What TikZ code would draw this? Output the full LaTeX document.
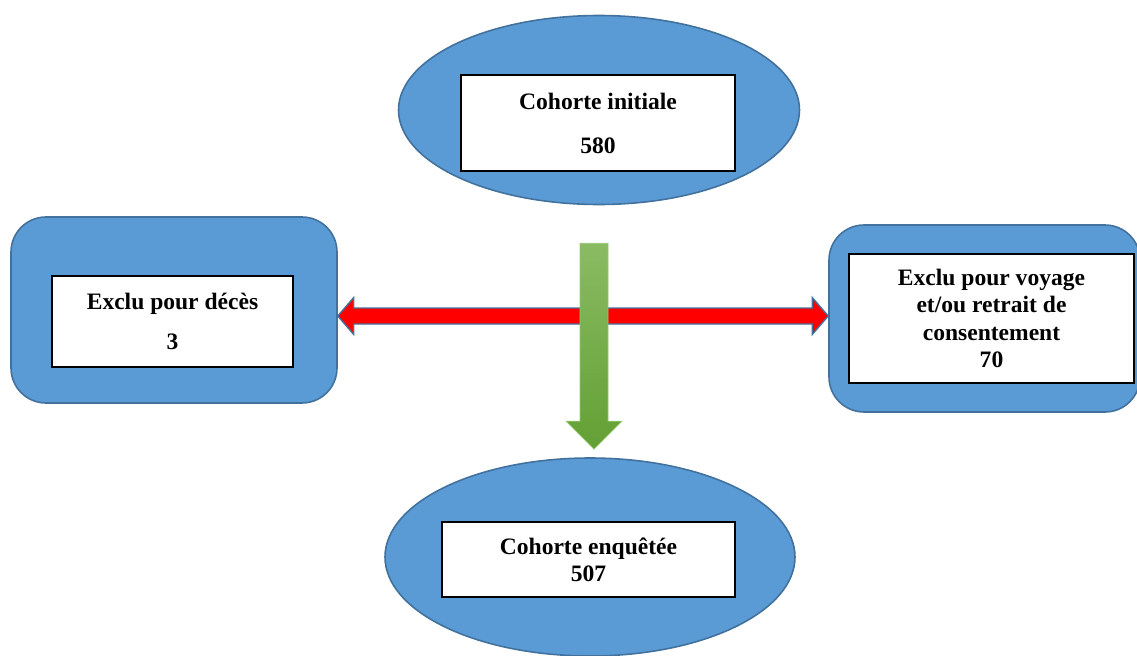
\documentclass[tikz,border=0pt]{standalone}
\usepackage{fontspec}
\setmainfont{Liberation Serif}
\usetikzlibrary{shapes.geometric,calc}
\definecolor{cellb}{RGB}{91,155,213}
\definecolor{edgeb}{RGB}{65,113,156}
\definecolor{arrgtop}{RGB}{138,187,99}
\definecolor{arrgbot}{RGB}{99,160,52}
\definecolor{arrgedge}{RGB}{150,200,110}

\begin{document}
\begin{tikzpicture}[
  font=\fontsize{13.4}{15.5}\selectfont\bfseries,
  oval/.style={ellipse, draw=edgeb, fill=cellb, line width=0.9pt, inner sep=0pt},
  rbox/.style={draw=edgeb, fill=cellb, line width=0.9pt, rounded corners=0.7cm,
               inner sep=0pt},
  tbox/.style={draw=black, fill=white, line width=0.6pt, inner sep=0pt, align=center},
  redarr/.style={draw=edgeb, fill=red, line width=0.8pt, line join=miter},
  greenarr/.style={draw=arrgedge, top color=arrgtop, bottom color=arrgbot,
                   line width=0.4pt},
]
\useasboundingbox (0,0) rectangle (22.74,-13.1);

% ---------- outer shapes ----------
\node[oval, minimum width=8.02cm, minimum height=3.78cm] (init) at (11.98,-2.2) {};
\node[rbox, minimum width=6.52cm, minimum height=3.72cm] (deces) at (3.48,-6.2) {};
\node[rbox, minimum width=6.22cm, minimum height=3.74cm] (voyage) at (19.69,-6.37) {};
\node[oval, minimum width=8.2cm, minimum height=3.96cm] (enq) at (11.8,-11.14) {};

% ---------- red double arrow: exclusions ----------
\coordinate (rl) at ($(deces.east)+(0,-0.12)$);
\coordinate (rr) at (rl -| voyage.west);
\draw[redarr] (rl) -- ($(rl)+(0.32,0.37)$) -- ($(rl)+(0.32,0.16)$)
  -- ($(rr)+(-0.32,0.16)$) -- ($(rr)+(-0.32,0.37)$) -- (rr)
  -- ($(rr)+(-0.32,-0.37)$) -- ($(rr)+(-0.32,-0.16)$)
  -- ($(rl)+(0.32,-0.16)$) -- ($(rl)+(0.32,-0.37)$) -- cycle;

% ---------- green arrow: initial -> surveyed ----------
\coordinate (gtop) at ($(init.south)+(-0.1,-0.76)$);
\coordinate (gtip) at ($(enq.north)+(0.08,0.16)$);
\draw[greenarr] ($(gtop)+(-0.28,0)$) -- ($(gtop)+(0.28,0)$)
  -- ($(gtip)+(0.28,0.56)$) -- ($(gtip)+(0.56,0.56)$) -- (gtip)
  -- ($(gtip)+(-0.56,0.56)$) -- ($(gtip)+(-0.28,0.56)$) -- cycle;

% ---------- text boxes ----------
\node[tbox, minimum width=5.48cm, minimum height=1.92cm] (initt) at (11.96,-2.46)
  {Cohorte initiale\\[9.5pt]580};
\node[tbox, minimum width=4.82cm, minimum height=1.82cm] (decest) at (3.45,-6.43)
  {Exclu pour décès\\[7.7pt]3};
\node[tbox, minimum width=5.7cm, minimum height=2.58cm] (voyaget) at (19.83,-6.37)
  {Exclu pour voyage\\et/ou retrait de\\consentement\\70};
\node[tbox, minimum width=5.86cm, minimum height=1.5cm] (enqt) at (11.77,-11.19)
  {Cohorte enquêtée\\507};

\end{tikzpicture}
\end{document}
